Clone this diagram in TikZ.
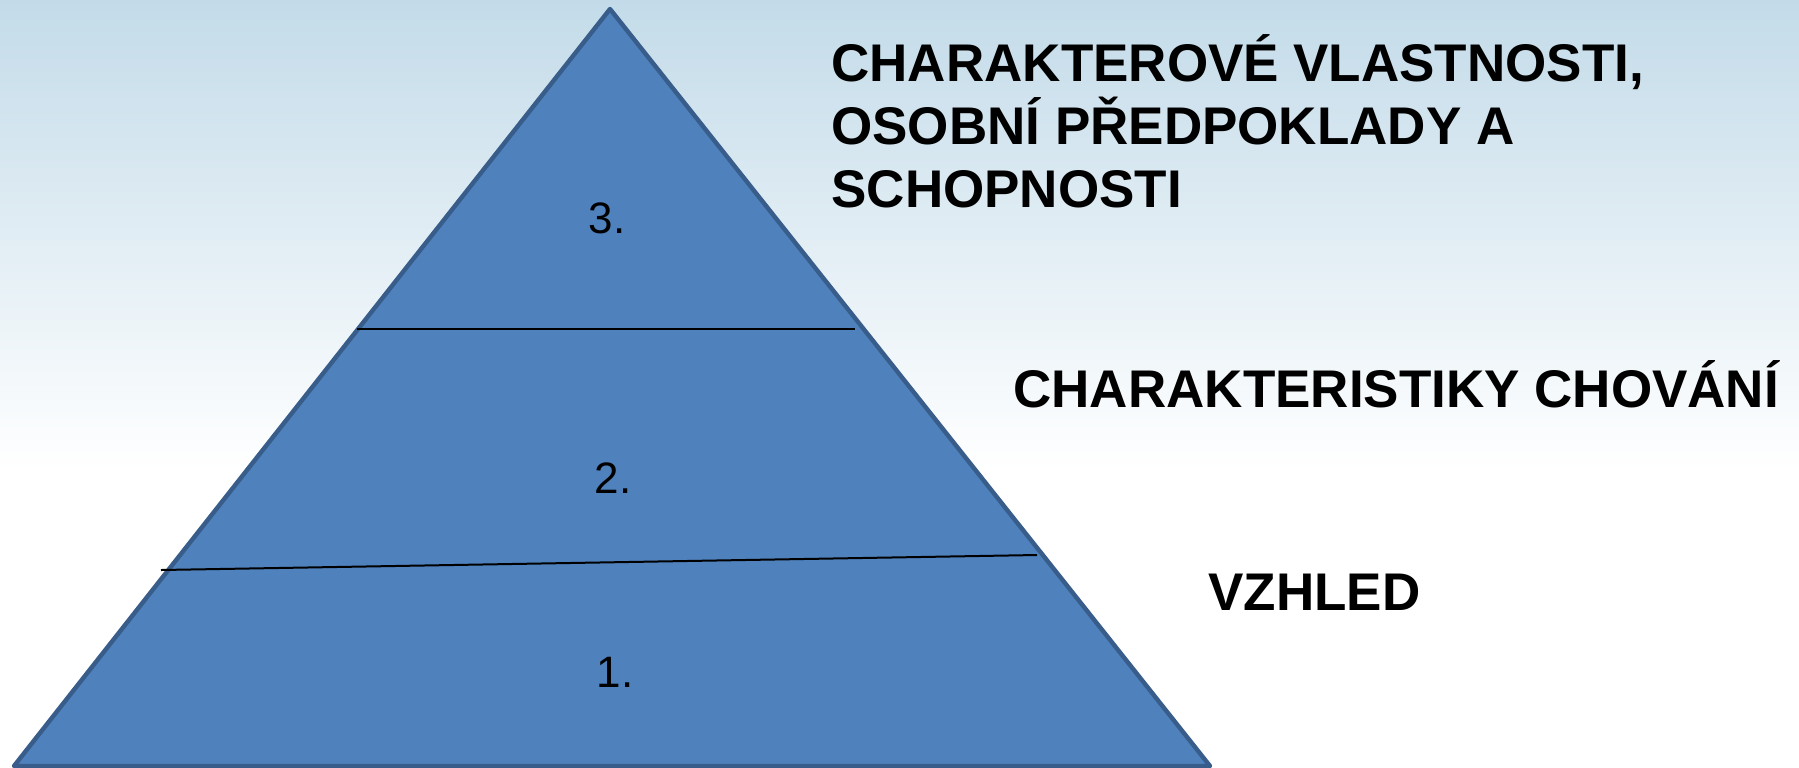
\documentclass[tikz,border=0pt]{standalone}
\usepackage{fontspec}
\setmainfont{Liberation Sans}
\usetikzlibrary{positioning}

\definecolor{skyblue}{RGB}{195,219,233}
\definecolor{pyrfill}{RGB}{79,129,189}
\definecolor{pyredge}{RGB}{56,93,138}

\tikzset{
  level/.style={font=\fontsize{22}{26}\selectfont, inner sep=0pt, anchor=base},
  caption/.style={font=\bfseries\fontsize{26.5}{31.5}\selectfont, inner sep=0pt,
                  anchor=base west, align=left},
  divider/.style={black, line width=1pt}
}

\begin{document}
\begin{tikzpicture}[x=0.5pt, y=-0.5pt]
    % --------------------------
    % the background of the page
    % --------------------------
    \useasboundingbox (0,0) rectangle (1799,767);
    \fill[white] (0,0) rectangle (1799,767);
    \shade[top color=skyblue, bottom color=white] (0,0) rectangle (1799,470);
    % -----------------------------
    % the three corners of the pyramid
    % -----------------------------
    \coordinate (apex) at (610,9);
    \coordinate (baseL) at (14,766);
    \coordinate (baseR) at (1210,766);
    \draw[fill=pyrfill, draw=pyredge, line width=2.2pt, line join=round]
      (apex) -- (baseR) -- (baseL) -- cycle;
    % the two lines between the levels
    \coordinate (cutA1) at (357,329);
    \coordinate (cutA2) at (855,329);
    \coordinate (cutB1) at (161,570);
    \coordinate (cutB2) at (1037,555);
    \draw[divider] (cutA1) -- (cutA2);
    \draw[divider] (cutB1) -- (cutB2);
    % ----------------------
    % the numbers of the levels
    % ----------------------
    \node[level] (lvlthree) at (607,233) {3.};
    \node[level] (lvltwo) at (613,493) {2.};
    \node[level] (lvlone) at (615,687) {1.};
    % the texts beside the levels (base = last line)
    \node[caption] (traits) at (831,207)
      {CHARAKTEROVÉ VLASTNOSTI,\\OSOBNÍ PŘEDPOKLADY A\\SCHOPNOSTI};
    \node[caption] (behaviour) at (1013,407) {CHARAKTERISTIKY CHOVÁNÍ};
    \node[caption] (looks) at (1208,610) {VZHLED};
\end{tikzpicture}
\end{document}
